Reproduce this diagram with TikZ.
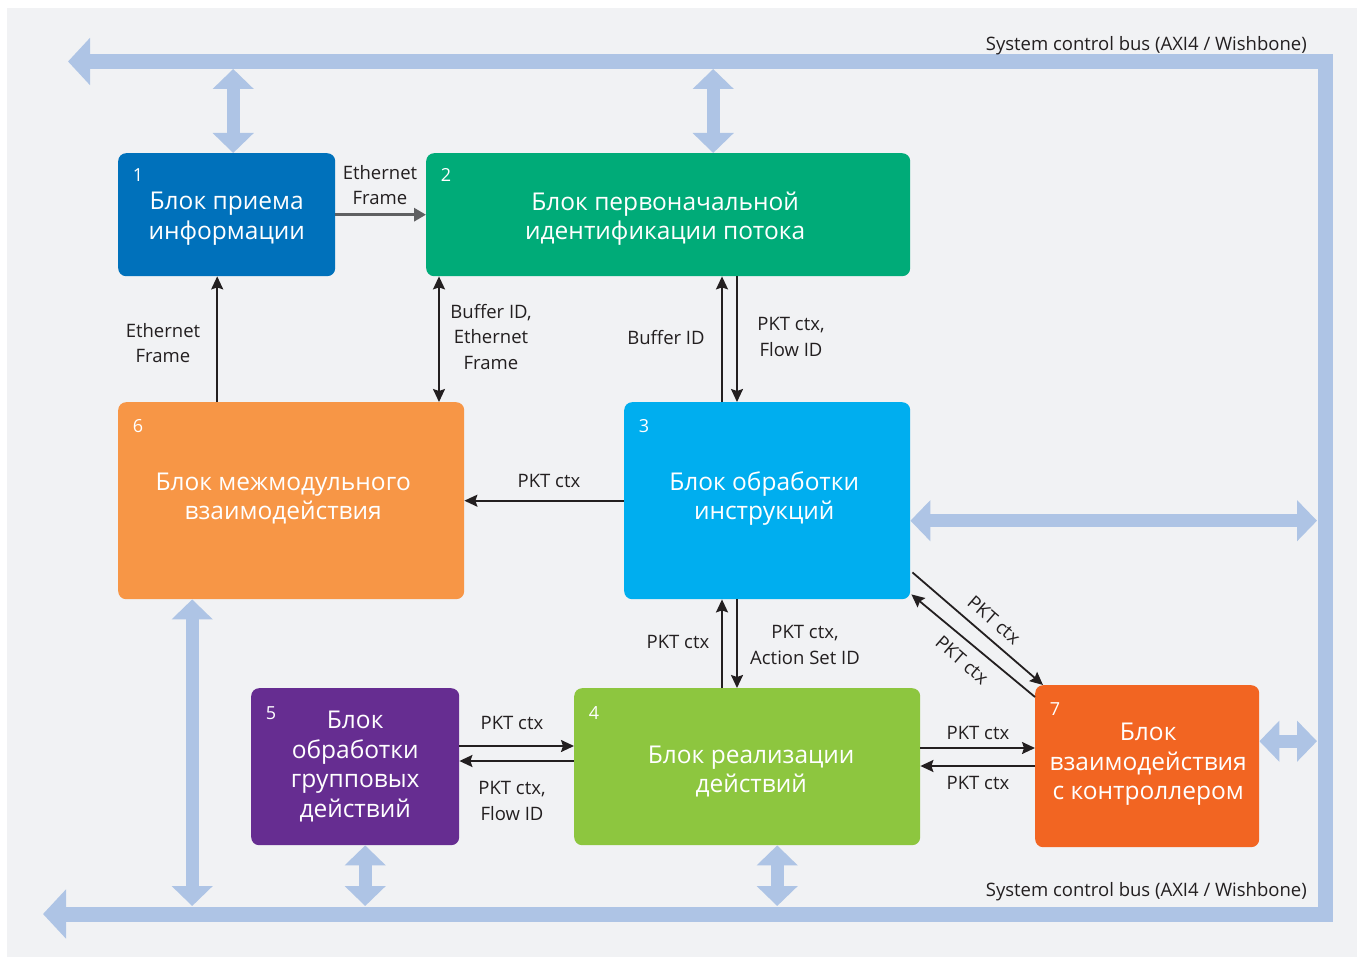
\documentclass[tikz,border=0pt]{standalone}
\usepackage{fontspec}
\setmainfont{Open Sans}
\usetikzlibrary{arrows.meta,calc}
\definecolor{bgc}{HTML}{F1F2F4}
\definecolor{busc}{HTML}{AEC4E5}
\definecolor{cA}{HTML}{0071BB}
\definecolor{cB}{HTML}{00AB78}
\definecolor{cC}{HTML}{00AEEF}
\definecolor{cD}{HTML}{8DC63F}
\definecolor{cE}{HTML}{662D91}
\definecolor{cF}{HTML}{F79646}
\definecolor{cG}{HTML}{F26522}
\definecolor{ink}{HTML}{231F20}
\definecolor{grayar}{HTML}{5F6062}
\tikzset{
  block/.style={rounded corners=8pt, inner sep=0pt, anchor=north west},
  btext/.style={text=white, font=\fontsize{24.5}{29.5}\selectfont, align=center, inner sep=0pt},
  num/.style={text=white, font=\fontsize{18}{20}\selectfont, inner sep=0pt},
  lbl/.style={text=ink, font=\fontsize{18.5}{25.5}\selectfont, align=center, inner sep=0pt},
  conn/.style={draw=ink, line width=1.8pt, -{Stealth[length=13pt,width=12pt,inset=2pt]}},
  connboth/.style={draw=ink, line width=1.8pt, {Stealth[length=13pt,width=12pt,inset=2pt]}-{Stealth[length=13pt,width=12pt,inset=2pt]}},
  grayconn/.style={draw=grayar, line width=3pt, -{Triangle[length=12pt,width=13pt]}},
  bus/.style={draw=busc, line width=15pt, line join=miter,
    arrows={Triangle[length=22pt,width=46pt]-Triangle[length=23pt,width=48pt]}},
  tap/.style={draw=busc, line width=13pt,
    arrows={Triangle[length=20pt,width=40pt]-Triangle[length=20pt,width=40pt]}}
}
\begin{document}
\begin{tikzpicture}[x=1pt,y=-1pt]
\useasboundingbox (0,0) rectangle (1357,957);
\fill[bgc] (7,8) rectangle (1357,957);

% bus
\coordinate (busTL) at (68,61.5);
\coordinate (busTR) at (1325,61.5);
\coordinate (busBR) at (1325,914);
\coordinate (busBL) at (43,914);
\coordinate (topin) at (0,69);
\coordinate (botin) at (0,906);
\coordinate (rightin) at (1317,0);
\draw[bus] (busTL) -- (busTR) -- (busBR) -- (busBL);
\node[lbl, anchor=east] (bustop) at (1307,46) {System control bus (AXI4 / Wishbone)};
\node[lbl, anchor=east] (busbot) at (1307,892) {System control bus (AXI4 / Wishbone)};

% blocks
\node[block, fill=cA, minimum width=217pt, minimum height=123pt] (b1) at (118,153) {};
\node[block, fill=cB, minimum width=484pt, minimum height=123pt] (b2) at (426,153) {};
\node[block, fill=cC, minimum width=286pt, minimum height=197pt] (b3) at (624,402) {};
\node[block, fill=cF, minimum width=346pt, minimum height=197pt] (b6) at (118,402) {};
\node[block, fill=cE, minimum width=208pt, minimum height=157pt] (b5) at (251,688) {};
\node[block, fill=cD, minimum width=346pt, minimum height=157pt] (b4) at (574,688) {};
\node[block, fill=cG, minimum width=224pt, minimum height=162pt] (b7) at (1035,685) {};

\node[btext] (t1) at ($(b1.center)+(0,4)$) {Блок приема\\информации};
\node[btext] (t2) at ($(b2.center)+(-3,4)$) {Блок первоначальной\\идентификации потока};
\node[btext] (t3) at ($(b3.center)+(-3,-2)$) {Блок обработки\\инструкций};
\node[btext] (t6) at ($(b6.center)+(-8,-2)$) {Блок межмодульного\\взаимодействия};
\node[btext] (t5) at ($(b5.center)+(0,0)$) {Блок\\обработки\\групповых\\действий};
\node[btext] (t4) at ($(b4.center)+(4,5)$) {Блок реализации\\действий};
\node[btext] (t7) at ($(b7.center)+(1,-2)$) {Блок\\взаимодействия\\с контроллером};

\node[num] (n1) at ($(b1.north west)+(20,22)$) {1};
\node[num] (n2) at ($(b2.north west)+(20,22)$) {2};
\node[num] (n3) at ($(b3.north west)+(20,24)$) {3};
\node[num] (n6) at ($(b6.north west)+(20,24)$) {6};
\node[num] (n5) at ($(b5.north west)+(20,25)$) {5};
\node[num] (n4) at ($(b4.north west)+(20,25)$) {4};
\node[num] (n7) at ($(b7.north west)+(20,24)$) {7};

% bus taps
\draw[tap] ([xshift=6.5pt]b1.north) -- ([xshift=6.5pt]b1.north |- topin);
\draw[tap] ([xshift=45pt]b2.north) -- ([xshift=45pt]b2.north |- topin);
\draw[tap] ([yshift=-20pt]b3.east) -- ([yshift=-20pt]b3.east -| rightin);
\draw[tap] ([yshift=25pt]b7.east) -- ([yshift=25pt]b7.east -| rightin);
\draw[tap] ([xshift=-99pt]b6.south) -- ([xshift=-99pt]b6.south |- botin);
\draw[tap] ([xshift=10pt]b5.south) -- ([xshift=10pt]b5.south |- botin);
\draw[tap] ([xshift=30pt]b4.south) -- ([xshift=30pt]b4.south |- botin);

% connectors
\draw[grayconn] (b1.east) -- (b1.east -| b2.west);
\node[lbl] (l12) at (380,185) {Ethernet\\Frame};

\draw[conn] ([xshift=-9.5pt]b6.north -| b1.south) -- ([xshift=-9.5pt]b1.south);
\node[lbl] (l61) at (163,343) {Ethernet\\Frame};

\draw[connboth] ([xshift=13pt]b2.south west) -- ([xshift=13pt]b2.south west |- b6.north);
\node[lbl] (l26) at (491,337) {Buffer ID,\\Ethernet\\Frame};

\draw[conn] ([xshift=98pt]b3.north west) -- ([xshift=98pt]b3.north west |- b2.south);
\node[lbl] (l32) at (666,338) {Buffer ID};
\draw[conn] ([xshift=113pt]b3.north west |- b2.south) -- ([xshift=113pt]b3.north west);
\node[lbl] (l23) at (791,337) {PKT ctx,\\Flow ID};

\draw[conn] (b3.west) -- (b3.west -| b6.east);
\node[lbl] (l36) at (549,481) {PKT ctx};

\draw[conn] ([xshift=148pt]b4.north west) -- ([xshift=148pt]b4.north west |- b3.south);
\node[lbl] (l43) at (678,642) {PKT ctx};
\draw[conn] ([xshift=163pt]b4.north west |- b3.south) -- ([xshift=163pt]b4.north west);
\node[lbl] (l34) at (805,645) {PKT ctx,\\Action Set ID};

\draw[conn] ([yshift=-58pt]b5.north east) -- ([yshift=-58pt]b5.north east -| b4.west);
\node[lbl] (l54) at (512,723) {PKT ctx};
\draw[conn] ([yshift=-73pt]b5.north east -| b4.west) -- ([yshift=-73pt]b5.north east);
\node[lbl] (l45) at (512,801) {PKT ctx,\\Flow ID};

\draw[conn] ([yshift=-60pt]b4.north east) -- ([yshift=-60pt]b4.north east -| b7.west);
\node[lbl] (l47) at (978,733) {PKT ctx};
\draw[conn] ([yshift=-78pt]b4.north east -| b7.west) -- ([yshift=-78pt]b4.north east);
\node[lbl] (l74) at (978,783) {PKT ctx};

\draw[conn] ([shift={(2pt,27pt)}]b3.south east) -- ([xshift=8pt]b7.north west);
\node[lbl, rotate=-40.8] (l37) at (994,620) {PKT ctx};
\draw[conn] ([yshift=-12pt]b7.north west) -- ([shift={(1pt,5pt)}]b3.south east);
\node[lbl, rotate=-40.8] (l73) at (962,660) {PKT ctx};
\end{tikzpicture}
\end{document}
